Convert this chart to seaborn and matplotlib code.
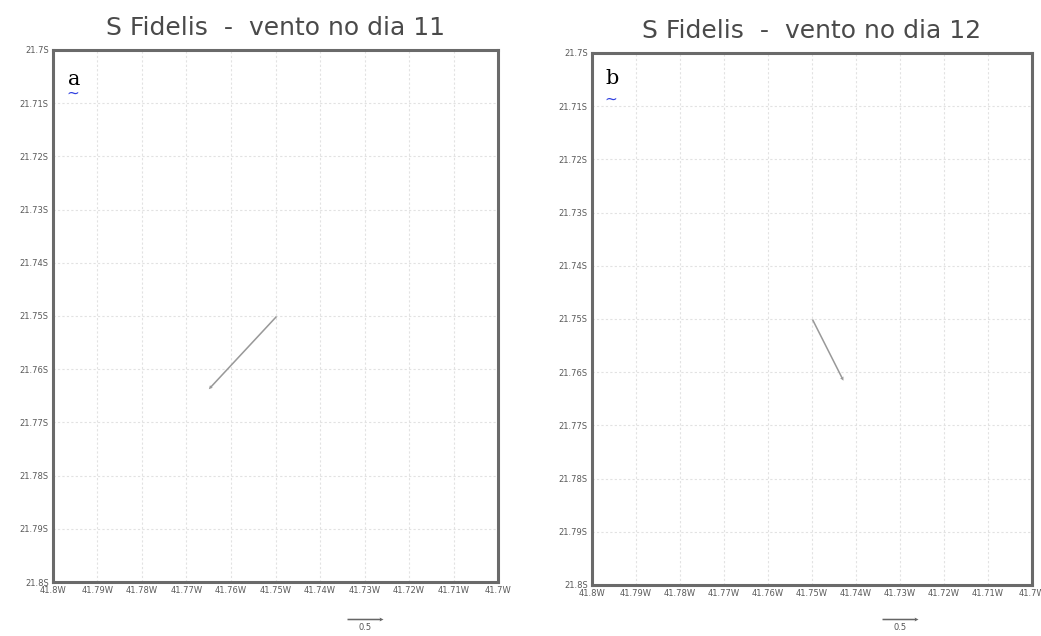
import numpy as np
import matplotlib
matplotlib.use('Agg')
import matplotlib.pyplot as plt
import seaborn as sns

# Grid of the domain (lon W / lat S, stored as negative degrees)
lon_ticks = [-41.8, -41.79, -41.78, -41.77, -41.76, -41.75, -41.74, -41.73, -41.72, -41.71, -41.7]
lat_ticks = [-21.7, -21.71, -21.72, -21.73, -21.74, -21.75, -21.76, -21.77, -21.78, -21.79, -21.8]
lon_labels = ['41.8W', '41.79W', '41.78W', '41.77W', '41.76W', '41.75W',
              '41.74W', '41.73W', '41.72W', '41.71W', '41.7W']
lat_labels = ['21.7S', '21.71S', '21.72S', '21.73S', '21.74S', '21.75S',
              '21.76S', '21.77S', '21.78S', '21.79S', '21.8S']

# Station and wind vectors for each day
station_lon = -41.75
station_lat = -21.75
days = ['11', '12']
panel_letters = ['a', 'b']
u_wind = [-0.94, 0.43]
v_wind = [-1.01, -0.85]
ref_speed = 0.5

sns.set_style('white')
plt.rcParams['font.family'] = ['DejaVu Sans']

fig = plt.figure(figsize=(10.41, 6.36), dpi=100)
positions = [[0.0509, 0.0849, 0.4275, 0.8365],
             [0.5687, 0.0802, 0.4227, 0.8365]]
key_x = [0.351, 0.865]
letter_pos = [(0.033, 0.962), (0.03, 0.97)]
squiggle_drop = [0.028, 0.042]

for i in range(2):
    ax = fig.add_axes(positions[i])
    ax.set_xlim(lon_ticks[0], lon_ticks[-1])
    ax.set_ylim(lat_ticks[-1], lat_ticks[0])
    ax.set_xticks(lon_ticks)
    ax.set_xticklabels(lon_labels, fontsize=6, color='#5a5a5a')
    ax.set_yticks(lat_ticks)
    ax.set_yticklabels(lat_labels, fontsize=6, color='#5a5a5a')
    ax.tick_params(axis='both', length=2, pad=1, color='#666666')
    ax.grid(True, color='#e2e2e2', linestyle=(0, (2, 2)), linewidth=0.8)
    for s in ax.spines.values():
        s.set_color('#6a6a6a')
        s.set_linewidth(2.2)

    q = ax.quiver([station_lon], [station_lat], [u_wind[i]], [v_wind[i]],
                  color='#999999', scale=1 / 72.0, scale_units='dots',
                  width=0.0035, headwidth=2.5, headlength=2.5, headaxislength=2.2)
    ax.quiverkey(q, key_x[i], 0.027, ref_speed, '0.5', coordinates='figure',
                 labelpos='S', labelsep=0.04, color='#666666',
                 fontproperties={'size': 6}, labelcolor='#555555')

    ax.set_title('S Fidelis  -  vento no dia ' + days[i], fontsize=18,
                 color='#4a4a4a', pad=11)
    lx, ly = letter_pos[i]
    ax.text(lx, ly, panel_letters[i], transform=ax.transAxes,
            fontsize=15, family='DejaVu Serif', va='top', ha='left', color='black')
    ax.text(lx - 0.003, ly - squiggle_drop[i], '~', transform=ax.transAxes,
            fontsize=11, va='top', ha='left', color='#3040e0')

fig.savefig('out.png', dpi=100)
